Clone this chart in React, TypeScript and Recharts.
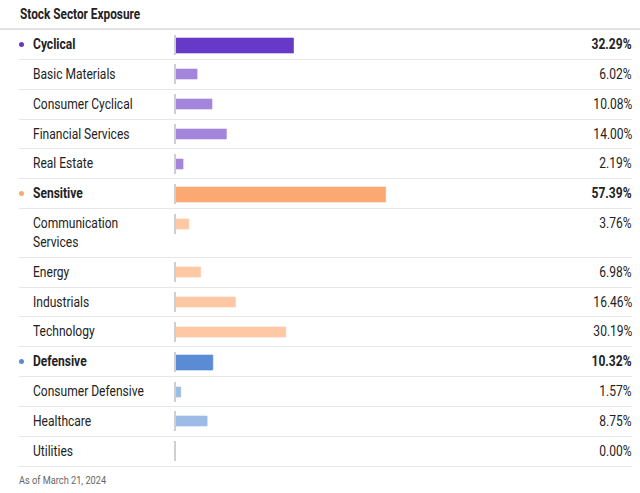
import React from "react";
import { BarChart, Bar, XAxis, YAxis } from "recharts";

const labels = [
  "Cyclical",
  "Basic Materials",
  "Consumer Cyclical",
  "Financial Services",
  "Real Estate",
  "Sensitive",
  "Communication Services",
  "Energy",
  "Industrials",
  "Technology",
  "Defensive",
  "Consumer Defensive",
  "Healthcare",
  "Utilities",
];
const values = [32.29, 6.02, 10.08, 14.0, 2.19, 57.39, 3.76, 6.98, 16.46, 30.19, 10.32, 1.57, 8.75, 0.0];
const isGroup = [true, false, false, false, false, true, false, false, false, false, true, false, false, false];
const groupOf = ["cyc", "cyc", "cyc", "cyc", "cyc", "sen", "sen", "sen", "sen", "sen", "def", "def", "def", "def"];
const title = "Stock Sector Exposure";
const asOf = "As of March 21, 2024";

const palette: Record<string, { main: string; light: string }> = {
  cyc: { main: "#6639c6", light: "#a386dc" },
  sen: { main: "#fca872", light: "#fdc8a3" },
  def: { main: "#5b8bd5", light: "#9dbbe7" },
};

const FONT = "Roboto, 'Noto Sans', sans-serif";

function RowChart({ value, color, group }: { value: number; color: string; group: boolean }) {
  const data = [{ name: "v", value }];
  return (
    <BarChart
      width={369}
      height={20}
      layout="vertical"
      data={data}
      margin={{ top: 0, right: 0, bottom: 0, left: 0 }}
    >
      <XAxis type="number" domain={[0, 100]} hide />
      <YAxis
        type="category"
        dataKey="name"
        width={2}
        tick={false}
        tickLine={false}
        axisLine={{ stroke: "#cfcfcf", strokeWidth: 2 }}
      />
      <Bar
        dataKey="value"
        fill={color}
        stroke={color}
        strokeOpacity={0.6}
        barSize={group ? 15 : 10}
        isAnimationActive={false}
      />
    </BarChart>
  );
}

export default function App() {
  return (
    <div
      style={{
        position: "absolute",
        left: 0,
        top: 0,
        width: 640,
        height: 493,
        background: "#fff",
        fontFamily: FONT,
        color: "#222",
        overflow: "hidden",
      }}
    >
      <div
        style={{
          height: 28,
          paddingLeft: 20,
          fontSize: 14,
          fontWeight: 700,
          lineHeight: "28px",
          boxSizing: "border-box",
          transform: "scaleX(0.845)",
          transformOrigin: "20px 0",
          whiteSpace: "nowrap",
        }}
      >
        {title}
      </div>
      <div style={{ height: 2, background: "#e2e2e2" }} />
      {labels.map((label, i) => {
        const g = isGroup[i];
        const pal = palette[groupOf[i]];
        const color = g ? pal.main : pal.light;
        return (
          <div
            key={label}
            style={{
              position: "relative",
              marginLeft: 19,
              width: 613,
              borderBottom: "1px solid #e6e6e6",
              padding: "5px 0",
              boxSizing: "border-box",
              minHeight: 29.85,
            }}
          >
            {g && (
              <div
                style={{
                  position: "absolute",
                  left: 0,
                  top: 12,
                  width: 5,
                  height: 5,
                  borderRadius: "50%",
                  background: pal.main,
                }}
              />
            )}
            <div
              style={{
                marginLeft: 14,
                width: 145,
                fontSize: 14,
                lineHeight: "18.85px",
                fontWeight: g ? 700 : 400,
                color: "#222",
                transform: "scaleX(0.86)",
                transformOrigin: "0 0",
              }}
            >
              {label}
            </div>
            <div style={{ position: "absolute", left: 154, top: 4.5 }}>
              <RowChart value={values[i]} color={color} group={g} />
            </div>
            <div
              style={{
                position: "absolute",
                right: 0,
                top: 5,
                fontSize: 14,
                lineHeight: "18.85px",
                fontWeight: g ? 700 : 400,
                transform: "scaleX(0.86)",
                transformOrigin: "100% 0",
                whiteSpace: "nowrap",
              }}
            >
              {values[i].toFixed(2)}%
            </div>
          </div>
        );
      })}
      <div
        style={{
          marginLeft: 19,
          marginTop: 5,
          fontSize: 11.5,
          color: "#666",
          lineHeight: "16px",
          whiteSpace: "nowrap",
        }}
      >
        <span
          style={{
            display: "inline-block",
            transform: "scaleX(0.8)",
            transformOrigin: "0 0",
          }}
        >
          {asOf}
        </span>
      </div>
    </div>
  );
}
